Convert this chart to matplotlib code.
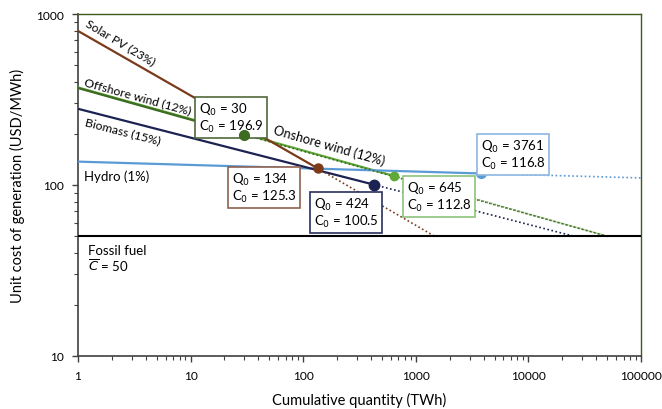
import matplotlib
matplotlib.use("Agg")
import matplotlib.pyplot as plt
from matplotlib.ticker import LogLocator, FixedLocator, NullFormatter

plt.rcParams['font.family'] = ['Lato', 'DejaVu Sans']

# ---- data ----
techs = ['Solar PV', 'Offshore wind', 'Onshore wind', 'Biomass', 'Hydro']
q0 = [134, 30, 645, 424, 3761]
c0 = [125.3, 196.9, 112.8, 100.5, 116.8]
q_start = [1, 1, 1, 1, 1]
c_start = [796, 369, 372, 279, 137]
q_end = [1480, 51000, 51000, 25900, 100000]
c_end = [50, 50, 50, 50, 110]
fossil_cost = 50
x_ticks = [1, 10, 100, 1000, 10000, 100000]
x_tick_labels = ['1', '10', '100', '1000', '10000', '100000']
y_ticks = [10, 100, 1000]
y_tick_labels = ['10', '100', '1000']

colors = {
    'Solar PV': '#7b3a1a',
    'Offshore wind': '#3d6b21',
    'Onshore wind': '#5fa83a',
    'Biomass': '#1c2352',
    'Hydro': '#5b9bd5',
}
box_edge = {
    'Solar PV': '#8f6250',
    'Offshore wind': '#50683a',
    'Onshore wind': '#8cc47a',
    'Biomass': '#2a2f5e',
    'Hydro': '#8db6e2',
}
marker_size = {'Solar PV': 6.5, 'Offshore wind': 7, 'Onshore wind': 6,
               'Biomass': 7.5, 'Hydro': 7}

W, H = 662, 410
AX_L, AX_R, AX_T, AX_B = 78, 641, 15, 357

fig = plt.figure(figsize=(W/100, H/100), dpi=100)
ax = fig.add_axes([AX_L/W, 1-AX_B/H, (AX_R-AX_L)/W, (AX_B-AX_T)/H])
ax.set_xscale('log')
ax.set_yscale('log')
ax.set_xlim(1, 100000)
ax.set_ylim(10, 1000)


def px(x, y):
    """pixel position (top-left origin) -> axes fraction"""
    return ((x - AX_L) / (AX_R - AX_L), (AX_B - y) / (AX_B - AX_T))


order = ['Onshore wind', 'Hydro', 'Biomass', 'Offshore wind', 'Solar PV']
for t in order:
    i = techs.index(t)
    col = colors[t]
    ax.plot([q_start[i], q0[i]], [c_start[i], c0[i]], color=col, lw=1.6,
            solid_capstyle='butt', zorder=3)
    ax.plot([q0[i], q_end[i]], [c0[i], c_end[i]], color=col, lw=1.2,
            linestyle=(0, (1, 1.5)), zorder=3)

for t in techs:
    i = techs.index(t)
    z = 7 if t == 'Offshore wind' else 5
    ax.plot([q0[i]], [c0[i]], marker='o', color=colors[t],
            markersize=marker_size[t], zorder=z, linestyle='none')

ax.axhline(fossil_cost, color='black', lw=1.5, zorder=4)

# boxes (text anchor = top-left in pixels)
box_pos = {
    'Offshore wind': (199, 102),
    'Solar PV': (232, 172),
    'Biomass': (314, 197),
    'Onshore wind': (407, 181),
    'Hydro': (481, 139),
}
for t in techs:
    i = techs.index(t)
    bx, by = px(*box_pos[t])
    ax.text(bx, by, f"Q$_0$ = {q0[i]}\nC$_0$ = {c0[i]}", fontsize=9.5,
            transform=ax.transAxes,
            va='top', ha='left', linespacing=1.1, zorder=6,
            bbox=dict(boxstyle='square,pad=0.27', fc='white',
                      ec=box_edge[t], lw=1.2))

# series labels
def label(x, y, s, rot=0, va='baseline', size=9):
    ax.text(*px(x, y), s, transform=ax.transAxes, fontsize=size,
            rotation=rot, rotation_mode='anchor', ha='left', va=va)

label(85, 26, 'Solar PV (23%)', -31, size=8.7)
label(83, 85, 'Offshore wind (12%)', -15.5, size=8.7)
label(84, 125, 'Biomass (15%)', -14.5, size=8.7)
label(273, 134, 'Onshore wind (12%)', -16, size=9.3)
label(84, 181, 'Hydro (1%)', size=9.5)
label(88, 255, 'Fossil fuel', size=9.5)
label(88, 272, r'$\overline{C}$ = 50', size=9.5)

# ticks
ax.xaxis.set_major_locator(FixedLocator(x_ticks))
ax.set_xticklabels(x_tick_labels)
ax.xaxis.set_minor_locator(LogLocator(base=10, subs=range(2, 10), numticks=20))
ax.xaxis.set_minor_formatter(NullFormatter())
ax.yaxis.set_major_locator(FixedLocator(y_ticks))
ax.set_yticklabels(y_tick_labels)
ax.yaxis.set_minor_locator(LogLocator(base=10, subs=range(2, 10), numticks=20))
ax.yaxis.set_minor_formatter(NullFormatter())
ax.tick_params(axis='both', which='major', direction='out', length=4,
               width=1, color='#404040', labelsize=8.6, pad=6)
ax.tick_params(axis='both', which='minor', direction='out', length=3,
               width=0.8, color='#404040')

for s in ['left', 'bottom']:
    ax.spines[s].set_color('#404040')
    ax.spines[s].set_linewidth(1.2)
for s in ['top', 'right']:
    ax.spines[s].set_color('#3c5a1e')
    ax.spines[s].set_linewidth(1.0)

ax.set_xlabel('Cumulative quantity (TWh)', fontsize=10.5, labelpad=8)
ax.set_ylabel('Unit cost of generation (USD/MWh)', fontsize=10.5, labelpad=8)

fig.savefig('out.png', dpi=100)
